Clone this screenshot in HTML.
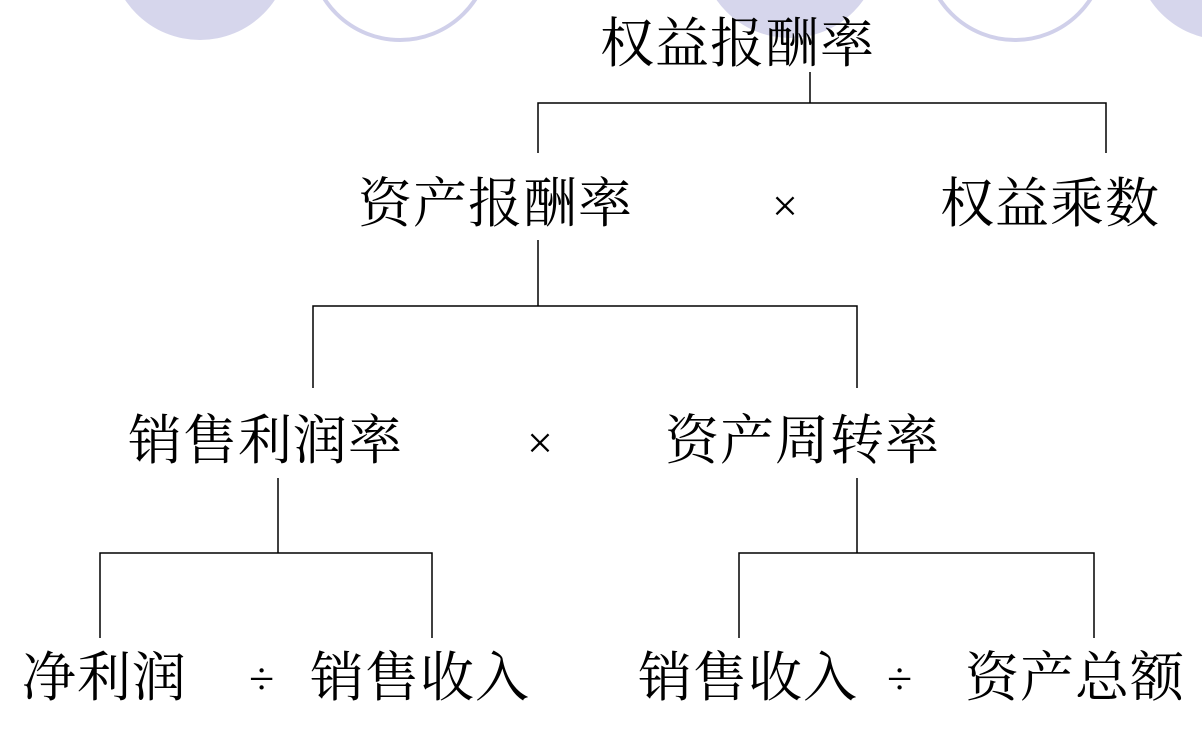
<!DOCTYPE html>
<html><head><meta charset="utf-8"><style>
html,body{margin:0;padding:0;background:#fff;}
body{width:1202px;height:738px;position:relative;overflow:hidden;font-family:"Liberation Serif","Noto Serif CJK SC",serif;}
.t{position:absolute;font-size:54px;line-height:54px;white-space:nowrap;color:#000;letter-spacing:1px}
.s{position:absolute;font-size:46px;line-height:46px;color:#000;font-family:"Liberation Serif",serif}
</style></head><body>
<svg width="1202" height="738" style="position:absolute;left:0;top:0">
<circle cx="200" cy="-50" r="90" fill="#d6d6ec"/>
<circle cx="400" cy="-50" r="90" fill="none" stroke="#d0d0ea" stroke-width="4"/>
<circle cx="790" cy="-52" r="90" fill="#d6d6ec"/>
<circle cx="1015" cy="-50" r="90" fill="none" stroke="#d0d0ea" stroke-width="4"/>
<circle cx="1225" cy="-50" r="90" fill="#d6d6ec"/>
<g stroke="#000" stroke-width="1.5" fill="none">
<path d="M810 72V103M538 153V103H1106V153"/>
<path d="M538 240V306M313 388V306H857V388"/>
<path d="M278 478V553M100 638V553H432V638"/>
<path d="M857 478V553M739 638V553H1094V638"/>
</g>
</svg>
<div class="t" style="left:600px;top:17px">权益报酬率</div>
<div class="t" style="left:358px;top:177px">资产报酬率</div>
<div class="s" style="left:772px;top:183px">×</div>
<div class="t" style="left:940px;top:177px">权益乘数</div>
<div class="t" style="left:128px;top:414px">销售利润率</div>
<div class="s" style="left:527px;top:420px">×</div>
<div class="t" style="left:665px;top:414px">资产周转率</div>
<div class="t" style="left:22px;top:651px">净利润</div>
<div class="s" style="left:249px;top:656px">÷</div>
<div class="t" style="left:310px;top:651px">销售收入</div>
<div class="t" style="left:638px;top:651px">销售收入</div>
<div class="s" style="left:887px;top:656px">÷</div>
<div class="t" style="left:965px;top:651px">资产总额</div>
</body></html>
